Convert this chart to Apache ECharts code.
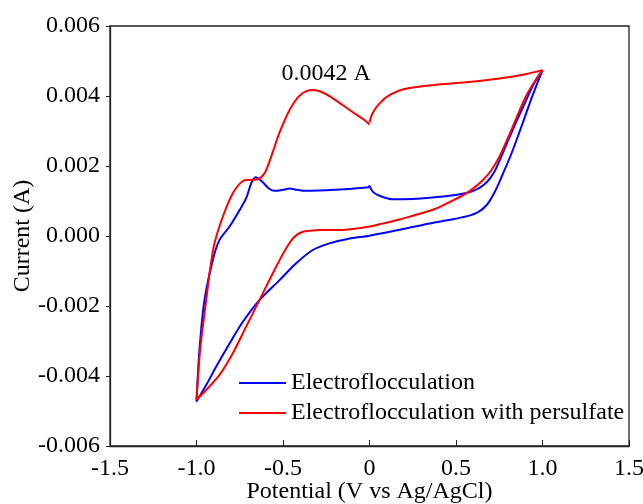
<!DOCTYPE html>
<html>
<head>
<meta charset="utf-8">
<script src="https://cdn.jsdelivr.net/npm/echarts@6/dist/echarts.min.js"></script>
<style>
  html, body { margin: 0; padding: 0; background: #fff; }
  #chart { width: 643px; height: 504px; }
</style>
</head>
<body>
<div id="chart"></div>
<script>
// Cyclic voltammograms, [potential (V), current (A)] in scan order
const electroflocculation = [
    [0.000, 0.00143], [0.020, 0.00126], [0.058, 0.00115], [0.135, 0.00105],
    [0.250, 0.00106], [0.347, 0.00109], [0.450, 0.00114], [0.560, 0.00123],
    [0.600, 0.00129], [0.640, 0.00139], [0.680, 0.00155], [0.720, 0.00182],
    [0.760, 0.00225], [0.800, 0.00272], [0.850, 0.00328], [0.900, 0.00382],
    [0.950, 0.00435], [1.000, 0.00474],
    [0.940, 0.00398], [0.880, 0.00315], [0.820, 0.00235], [0.760, 0.00165],
    [0.720, 0.00122], [0.680, 0.00090], [0.630, 0.00069], [0.560, 0.00056],
    [0.450, 0.00045], [0.347, 0.00036], [0.173, 0.00018], [0.000, 0.00001],
    [-0.120, -0.00008], [-0.231, -0.00021], [-0.328, -0.00040], [-0.424, -0.00078],
    [-0.520, -0.00126], [-0.636, -0.00183], [-0.732, -0.00245], [-0.809, -0.00307],
    [-0.886, -0.00373], [-0.944, -0.00426], [-1.000, -0.00473],
    [-0.983, -0.00326], [-0.954, -0.00183], [-0.906, -0.00069], [-0.867, -0.00011],
    [-0.809, 0.00027], [-0.751, 0.00074], [-0.713, 0.00108], [-0.684, 0.00150],
    [-0.659, 0.00168], [-0.620, 0.00155], [-0.580, 0.00135], [-0.549, 0.00129],
    [-0.500, 0.00132], [-0.462, 0.00136], [-0.420, 0.00132], [-0.366, 0.00129],
    [-0.200, 0.00132], [-0.005, 0.00139], [0.000, 0.00145]
];

const withPersulfate = [
    [0.000, 0.00324], [0.017, 0.00350], [0.058, 0.00379], [0.117, 0.00403],
    [0.197, 0.00419], [0.366, 0.00431], [0.559, 0.00439], [0.751, 0.00450],
    [0.880, 0.00460], [1.000, 0.00474],
    [0.950, 0.00438], [0.900, 0.00395], [0.850, 0.00338], [0.800, 0.00280],
    [0.750, 0.00226], [0.700, 0.00185], [0.650, 0.00157], [0.600, 0.00136],
    [0.550, 0.00119], [0.450, 0.00094], [0.366, 0.00075], [0.250, 0.00058],
    [0.173, 0.00047], [0.080, 0.00036], [0.000, 0.00027], [-0.135, 0.00018],
    [-0.289, 0.00017], [-0.385, 0.00012], [-0.443, -0.00007], [-0.520, -0.00069],
    [-0.636, -0.00183], [-0.713, -0.00259], [-0.790, -0.00335], [-0.867, -0.00397],
    [-0.944, -0.00440], [-1.000, -0.00467],
    [-0.978, -0.00320], [-0.944, -0.00183], [-0.920, -0.00090], [-0.896, -0.00021],
    [-0.848, 0.00055], [-0.790, 0.00122], [-0.732, 0.00157], [-0.694, 0.00160],
    [-0.646, 0.00162], [-0.607, 0.00179], [-0.568, 0.00227], [-0.522, 0.00293],
    [-0.462, 0.00360], [-0.400, 0.00403], [-0.328, 0.00417], [-0.280, 0.00412],
    [-0.220, 0.00396], [-0.150, 0.00372], [-0.080, 0.00348], [-0.020, 0.00328],
    [0.000, 0.00318]
];

const seriesNames = ['Electroflocculation', 'Electroflocculation with persulfate'];
const xTickLabels = ['-1.5', '-1.0', '-0.5', '0', '0.5', '1.0', '1.5'];
const yTickLabels = ['-0.006', '-0.004', '-0.002', '0.000', '0.002', '0.004', '0.006'];
const peakLabel = '0.0042 A';
const peakLabelAt = [-0.25, 0.00464];

const font = 'Liberation Serif';
const fs = 24;

const chart = echarts.init(document.getElementById('chart'));
chart.setOption({
    animation: false,
    backgroundColor: '#fff',
    textStyle: { fontFamily: font },
    grid: {
        left: 110, right: 14, top: 26, bottom: 58,
        outerBoundsMode: 'none',
        show: true, borderColor: '#222', borderWidth: 1.3
    },
    legend: {
        orient: 'vertical',
        left: 234, top: 366,
        icon: 'rect',
        itemWidth: 47, itemHeight: 2, itemGap: 6,
        textStyle: { fontFamily: font, fontSize: fs, color: '#000' },
        data: seriesNames
    },
    xAxis: {
        type: 'value',
        min: -1.5, max: 1.5, interval: 0.5,
        name: 'Potential (V vs Ag/AgCl)',
        nameLocation: 'middle', nameGap: 34, nameMoveOverlap: false,
        nameTextStyle: { fontFamily: font, fontSize: fs, color: '#000' },
        axisLine: { onZero: false, lineStyle: { color: '#222', width: 1.3 } },
        axisTick: { inside: true, length: 6, lineStyle: { color: '#222' } },
        splitLine: { show: false },
        axisLabel: {
            fontFamily: font, fontSize: fs, color: '#000', margin: 11,
            formatter: v => xTickLabels[Math.round((v + 1.5) / 0.5)]
        }
    },
    yAxis: {
        type: 'value',
        min: -0.006, max: 0.006, interval: 0.002,
        name: 'Current (A)',
        nameLocation: 'middle', nameGap: 75, nameRotate: 90, nameMoveOverlap: false,
        nameTextStyle: { fontFamily: font, fontSize: fs, color: '#000' },
        axisLine: { show: true, onZero: false, lineStyle: { color: '#222', width: 1.3 } },
        axisTick: { show: true, inside: false, length: 4, lineStyle: { color: '#222' } },
        splitLine: { show: false },
        axisLabel: {
            fontFamily: font, fontSize: fs, color: '#000', margin: 10,
            formatter: v => yTickLabels[Math.round((v + 0.006) / 0.002)]
        }
    },
    series: [
        {
            name: seriesNames[0],
            type: 'line',
            data: electroflocculation,
            showSymbol: false, symbol: 'none',
            smooth: 0.3,
            color: '#0000ff',
            lineStyle: { width: 2, color: '#0000ff' }
        },
        {
            name: seriesNames[1],
            type: 'line',
            data: withPersulfate,
            showSymbol: false, symbol: 'none',
            smooth: 0.3,
            color: '#ff0000',
            lineStyle: { width: 2, color: '#ff0000' },
            markPoint: {
                symbol: 'circle', symbolSize: 0,
                label: {
                    show: true, position: 'inside',
                    fontFamily: font, fontSize: fs, color: '#000',
                    formatter: peakLabel
                },
                data: [{ coord: peakLabelAt }]
            }
        }
    ]
});
</script>
</body>
</html>
